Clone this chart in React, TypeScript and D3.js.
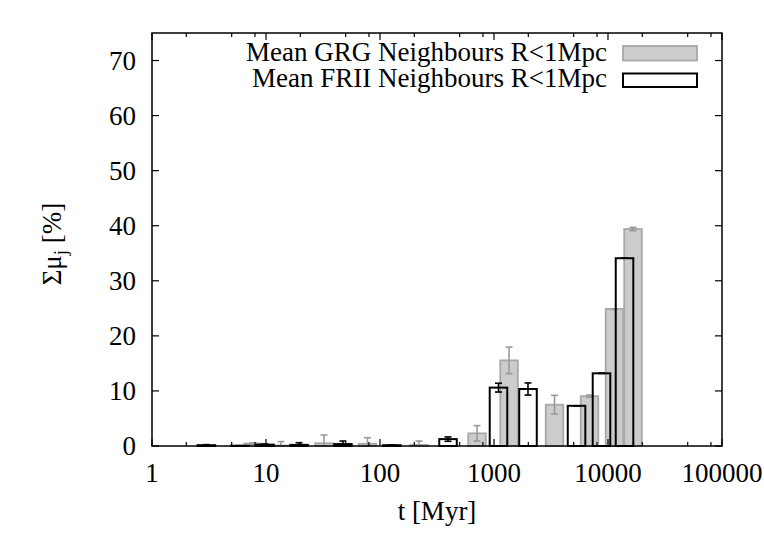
import React from 'react';
import * as d3 from 'd3';

// GRG neighbours: bar centre age (Myr), percentage, error
const grgAge = [7.7, 13.5, 32.3, 77.7, 220, 710, 1355, 3396, 6887, 11400, 16570];
const grgValue = [0.45, 0.1, 0.5, 0.4, 0.2, 2.3, 15.55, 7.5, 9.05, 24.9, 39.4];
const grgError = [0.1, 0.7, 1.5, 1.1, 0.7, 1.4, 2.4, 1.7, 0.2, 0, 0.3];

// FRII neighbours
const friiAge = [3.0, 5.9, 9.8, 19.5, 47.3, 127, 395, 1095, 1987, 5297, 8770, 13960];
const friiValue = [0.15, 0.05, 0.25, 0.2, 0.35, 0.15, 1.25, 10.6, 10.35, 7.3, 13.2, 34.1];
const friiError = [0.1, 0, 0.1, 0.4, 0.55, 0.05, 0.4, 0.8, 1.1, 0, 0, 0];

const xMajorTicks = [1, 10, 100, 1000, 10000, 100000];
const xMinorSteps = [2, 5, 8];
const yTicks = [0, 10, 20, 30, 40, 50, 60, 70];
const legendLabels = ['Mean GRG Neighbours R<1Mpc', 'Mean FRII Neighbours R<1Mpc'];

const W = 764;
const H = 535;
const margin = { top: 33, right: 42, bottom: 89, left: 152 };
const FONT = 'Liberation Serif';
const HALF_DEX = 0.077;
const CAP = 3.5;

const GRG_FILL = '#cccccc';
const GRG_STROKE = '#a8a8a8';
const GRG_ERR = '#9a9a9a';

const App: React.FC = () => {
  const x = d3.scaleLog().domain([1, 100000]).range([margin.left, W - margin.right]);
  const y = d3.scaleLinear().domain([0, 75]).range([H - margin.bottom, margin.top]);
  const x0 = margin.left;
  const x1 = W - margin.right;
  const y0 = H - margin.bottom;
  const y1 = margin.top;
  const k = Math.pow(10, HALF_DEX);

  const minorTicks: number[] = [];
  xMajorTicks.slice(0, -1).forEach(d => xMinorSteps.forEach(s => minorTicks.push(d * s)));

  const errorBar = (age: number, v: number, e: number, color: string, key: string) => {
    const cx = x(age);
    const lo = y(Math.max(0, v - e));
    const hi = y(v + e);
    return (
      <g key={key} stroke={color} strokeWidth={1.6}>
        <line x1={cx} x2={cx} y1={lo} y2={hi} />
        <line x1={cx - CAP} x2={cx + CAP} y1={lo} y2={lo} />
        <line x1={cx - CAP} x2={cx + CAP} y1={hi} y2={hi} />
      </g>
    );
  };

  const textStyle = { fontFamily: FONT, fontSize: '27px' };

  return (
    <svg width={W} height={H} style={{ position: 'absolute', left: 0, top: 0, background: '#fff' }}>
      {/* GRG bars */}
      {grgAge.map((a, i) => (
        <rect key={'g' + i} x={x(a / k)} width={x(a * k) - x(a / k)} y={y(grgValue[i])}
          height={y0 - y(grgValue[i])} fill={GRG_FILL} stroke={GRG_STROKE} strokeWidth={1.8} />
      ))}
      {grgAge.map((a, i) => errorBar(a, grgValue[i], grgError[i], GRG_ERR, 'ge' + i))}

      {/* FRII bars (empty boxes) */}
      {friiAge.map((a, i) => (
        <rect key={'f' + i} x={x(a / k)} width={x(a * k) - x(a / k)} y={y(friiValue[i])}
          height={y0 - y(friiValue[i])} fill="none" stroke="#000" strokeWidth={2} />
      ))}
      {friiAge.map((a, i) => errorBar(a, friiValue[i], friiError[i], '#000', 'fe' + i))}

      {/* frame */}
      <rect x={x0} y={y1} width={x1 - x0} height={y0 - y1} fill="none" stroke="#000" strokeWidth={1.5} />

      {/* y ticks */}
      {yTicks.map(t => (
        <g key={'yt' + t} stroke="#000" strokeWidth={1.2}>
          <line x1={x0} x2={x0 + 7} y1={y(t)} y2={y(t)} />
          <line x1={x1} x2={x1 - 7} y1={y(t)} y2={y(t)} />
        </g>
      ))}
      {yTicks.map(t => (
        <text key={'yl' + t} x={136} y={y(t)} dy="0.35em" textAnchor="end" style={textStyle}>{t}</text>
      ))}

      {/* x ticks */}
      {xMajorTicks.map(t => (
        <g key={'xt' + t} stroke="#000" strokeWidth={1.2}>
          <line x1={x(t)} x2={x(t)} y1={y0} y2={y0 - 7} />
          <line x1={x(t)} x2={x(t)} y1={y1} y2={y1 + 7} />
        </g>
      ))}
      {minorTicks.map(t => (
        <g key={'xm' + t} stroke="#000" strokeWidth={1.2}>
          <line x1={x(t)} x2={x(t)} y1={y0} y2={y0 - 4} />
          <line x1={x(t)} x2={x(t)} y1={y1} y2={y1 + 4} />
        </g>
      ))}
      {xMajorTicks.map(t => (
        <text key={'xl' + t} x={x(t)} y={482} textAnchor="middle" style={textStyle}>{String(t)}</text>
      ))}

      {/* axis labels */}
      <text x={(x0 + x1) / 2} y={520} textAnchor="middle" style={textStyle}>t [Myr]</text>
      <text transform="translate(61,244) rotate(-90)" textAnchor="middle" style={textStyle}>
        Σμ<tspan dy={6} style={{ fontSize: '19px' }}>j</tspan><tspan dy={-6}> [%]</tspan>
      </text>

      {/* legend */}
      <text x={607} y={61} textAnchor="end" style={textStyle}>{legendLabels[0]}</text>
      <rect x={623} y={46} width={74} height={14.5} fill={GRG_FILL} stroke={GRG_STROKE} strokeWidth={1.8} />
      <text x={607} y={87} textAnchor="end" style={textStyle}>{legendLabels[1]}</text>
      <rect x={623} y={73.5} width={74} height={13.5} fill="#fff" stroke="#000" strokeWidth={2} />
    </svg>
  );
};

export default App;
